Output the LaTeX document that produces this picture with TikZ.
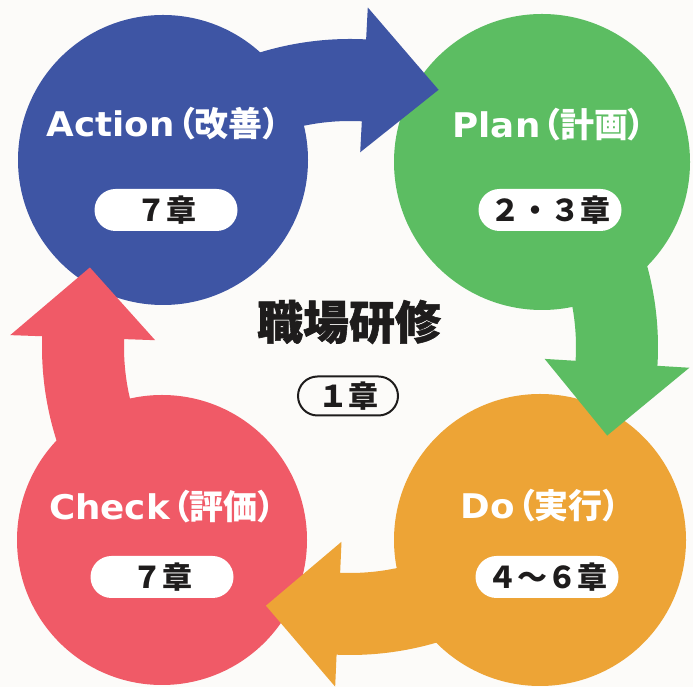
\documentclass[tikz,border=0pt]{standalone}
\usepackage{fontspec}
\newfontfamily\cjk{Noto Sans CJK JP}
\newfontfamily\cjkp{Noto Sans CJK JP}[RawFeature=+palt]
\newfontfamily\cjkheavy{Noto Sans CJK JP}[FakeBold=1.2]
\newfontfamily\lat{DejaVu Sans}[FakeStretch=1.05]
\definecolor{bgc}{RGB}{252,251,249}
\definecolor{cblue}{RGB}{62,85,164}
\definecolor{cgreen}{RGB}{92,189,98}
\definecolor{corange}{RGB}{237,164,54}
\definecolor{cred}{RGB}{240,90,103}
\definecolor{ink}{RGB}{30,28,28}
\newcommand\cyclearrow[4]{%
  \fill[#4] (#1:308pt) arc[start angle=#1, end angle=#2, radius=308pt]
    -- (#2:340pt) -- (#3:272pt) -- (#2:195pt) -- (#2:226pt)
    arc[start angle=#2, end angle=#1, radius=226pt] -- cycle;}
\begin{document}
\begin{tikzpicture}[x=1pt,y=1pt,
  phase/.style={circle, inner sep=0pt, minimum size=#1},
  title/.style={anchor=base, text=white, font=\fontsize{34}{38}\selectfont\bfseries},
  pill/.style={rounded corners=21pt, fill=white, minimum width=143pt, minimum height=42pt,
    inner sep=0pt, text=ink, font=\cjk\bfseries\fontsize{30}{34}\selectfont},
]
\fill[bgc] (0,0) rectangle (693,687);
\useasboundingbox (0,0) rectangle (693,687);
% circles
\node[phase=290pt, fill=cblue] (act) at (163,527) {};
\node[phase=296pt, fill=cgreen] (plan) at (542,525) {};
\node[phase=292pt, fill=corange] (do) at (540,147) {};
\node[phase=290pt, fill=cred] (chk) at (162,147) {};
% arrows
\begin{scope}[shift={(350,340)}]
  \cyclearrow{125}{87}{71}{cblue}
  \cyclearrow{35}{-3.5}{-19}{cgreen}
  \cyclearrow{-55}{-92.5}{-108}{corange}
  \cyclearrow{216}{178}{163}{cred}
\end{scope}
% titles
\node[title] (tact) at (163,550) {{\lat Action}\kern3pt{\cjkp （改善）}};
\node[title] (tplan) at (549,549) {{\lat Plan}\kern3pt{\cjkp （計画）}};
\node[title] (tchk) at (162,167) {{\lat Check}\kern3pt{\cjkp （評価）}};
\node[title] (tdo) at (540,168) {{\lat Do}\kern3pt{\cjkp （実行）}};
% pills
\node[pill] (pact) at (166,477) {７章};
\node[pill] (pplan) at (550,477) {２・３章};
\node[pill] (pchk) at (162,110) {７章};
\node[pill] (pdo) at (547,110) {４～６章};
% center
\node[text=ink, font=\cjkheavy\bfseries\fontsize{46}{50}\selectfont] (center) at (349,365) {職場研修};
\node[pill, fill=bgc, draw=ink, line width=2pt, minimum width=100pt, minimum height=39pt, rounded corners=19.5pt] (pcenter) at (348,291) {１章};
\end{tikzpicture}
\end{document}
